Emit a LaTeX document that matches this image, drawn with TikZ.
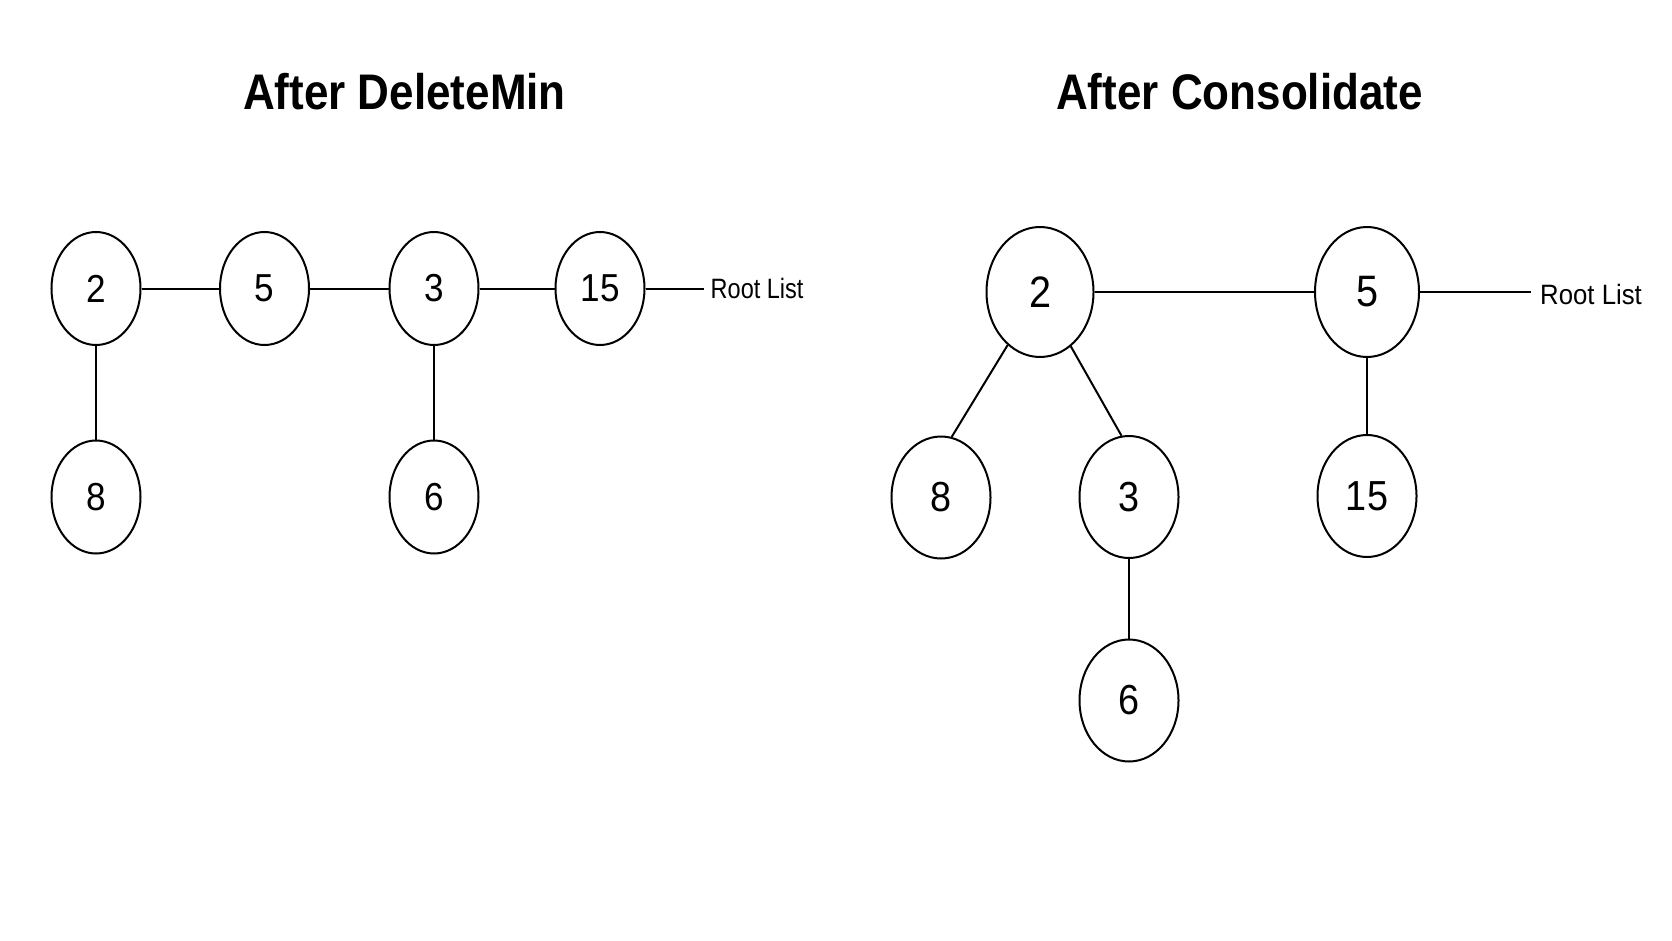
\documentclass[tikz,border=0pt]{standalone}
\usepackage{fontspec}
\usetikzlibrary{shapes.geometric}
\newfontfamily\titlefont[FakeStretch=0.88]{Liberation Sans}
\newfontfamily\numfont[FakeStretch=0.9]{Liberation Sans}
\newfontfamily\rootfontL[FakeStretch=0.84]{Liberation Sans}
\newfontfamily\rootfontR[FakeStretch=0.92]{Liberation Sans}
\tikzset{
  edge/.style={line width=2pt,black},
  heapnode/.style={ellipse,draw=black,line width=2pt,inner sep=0pt,fill=white},
  small/.style={heapnode,minimum width=89pt,minimum height=113pt,font=\numfont\fontsize{39}{45}\selectfont},
  big/.style={heapnode,minimum width=99pt,minimum height=122pt,font=\numfont\fontsize{42}{48}\selectfont},
  huge/.style={heapnode,minimum width=107pt,minimum height=130pt,font=\numfont\fontsize{44}{50}\selectfont},
  titletext/.style={inner sep=0pt,anchor=base,font=\titlefont\bfseries\fontsize{50}{60}\selectfont},
  roottext/.style={inner sep=0pt,anchor=base west}
}
\begin{document}
\begin{tikzpicture}[x=1pt,y=-1pt]
\useasboundingbox (0,0) rectangle (1672,941);
\fill[white] (0,0) rectangle (1672,941);

% titles
\node[titletext] (t1) at (404.5,110) {After DeleteMin};
\node[titletext] (t2) at (1239.5,110) {After Consolidate};

% left: after DeleteMin
\node[small] (l2) at (96,288.5) {2};
\node[small] (l5) at (264.5,288.5) {5};
\node[small] (l3) at (434,288.5) {3};
\node[small] (l15) at (600,288.5) {15};
\node[small] (l8) at (96,497) {8};
\node[small] (l6) at (434,497) {6};
\coordinate (lend) at (704,288.5);
\node[roottext,font=\rootfontL\fontsize{28}{34}\selectfont] (lroot) at (710.5,298.3) {Root List};

\draw[edge] (l2) -- (l5);
\draw[edge] (l5) -- (l3);
\draw[edge] (l3) -- (l15);
\draw[edge] (l15) -- (lend);
\draw[edge] (l2) -- (l8);
\draw[edge] (l3) -- (l6);

% right: after Consolidate
\node[huge] (r2) at (1040,292) {2};
\node[huge,minimum width=104pt] (r5) at (1367,292) {5};
\node[big] (r8) at (941,497.5) {8};
\node[big] (r3) at (1129,497) {3};
\node[big] (r15) at (1367,496) {15};
\node[big] (r6) at (1129,700.5) {6};
\coordinate (rend) at (1531,292);
\node[roottext,font=\rootfontR\fontsize{28}{34}\selectfont] (rroot) at (1540,304) {Root List};

\draw[edge] (r2) -- (r5);
\draw[edge] (r5) -- (rend);
\draw[edge] (r2) -- (r8.80);
\draw[edge] (r2) -- (r3.97);
\draw[edge] (r5) -- (r15);
\draw[edge] (r3) -- (r6);
\end{tikzpicture}
\end{document}
